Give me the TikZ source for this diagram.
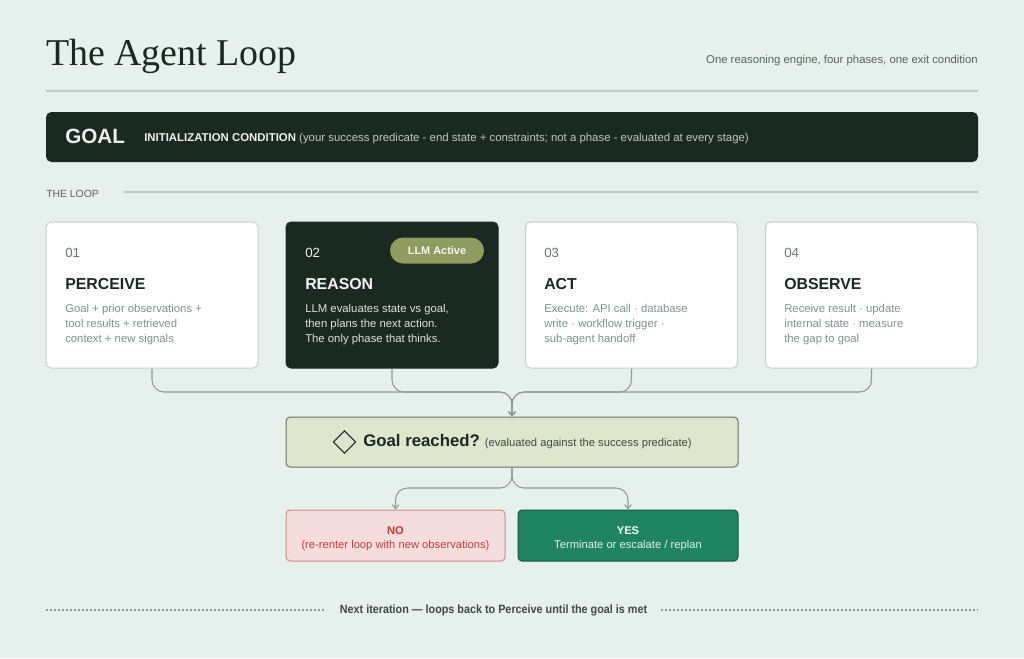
\documentclass[tikz,border=0pt]{standalone}
\usepackage{fontspec}
\setmainfont{Liberation Sans}
\newfontfamily\titlefont{Liberation Serif}
\newfontfamily\condfont[FakeStretch=0.9]{Liberation Sans}
\usetikzlibrary{shapes.geometric,arrows.meta,calc}
\definecolor{bg}{HTML}{E6F0EC}
\definecolor{ink}{HTML}{1B2923}
\definecolor{rule}{HTML}{B9CBC2}
\definecolor{subgray}{HTML}{56655E}
\definecolor{bodygray}{HTML}{82928A}
\definecolor{numgray}{HTML}{6B7A73}
\definecolor{cardline}{HTML}{C3D2CA}
\definecolor{pill}{HTML}{8F9B5F}
\definecolor{qfill}{HTML}{E0E6CE}
\definecolor{qline}{HTML}{6A7268}
\definecolor{nofill}{HTML}{F6DDDD}
\definecolor{noline}{HTML}{D08A8A}
\definecolor{nored}{HTML}{C13B3B}
\definecolor{yesfill}{HTML}{1E8461}
\definecolor{yesline}{HTML}{17543F}
\definecolor{conn}{HTML}{8D9C95}
\definecolor{lightbody}{HTML}{DCE3DF}
\tikzset{
  card/.style={draw=cardline, line width=0.75pt, fill=white, rounded corners=3.75pt,
    minimum width=159pt, minimum height=109.5pt, inner sep=0pt},
  darkcard/.style={card, draw=ink, fill=ink},
  num/.style={anchor=base west, inner sep=0pt, font=\fontsize{10}{12}\selectfont, text=numgray},
  ctitle/.style={anchor=base west, inner sep=0pt, font=\fontsize{11.9}{15}\selectfont\bfseries, text=ink},
  cbody/.style={anchor=base west, inner sep=0pt, align=left, font=\fontsize{8.5}{11.25}\selectfont, text=bodygray},
  connline/.style={draw=conn, line width=0.8pt, rounded corners=9pt},
  arr/.style={-{Straight Barb[length=3pt,width=5pt]}},
  resbox/.style={rounded corners=3pt, line width=0.75pt, minimum height=38.25pt, inner sep=0pt, align=center},
  restext/.style={inner sep=0pt, align=center, font=\fontsize{8.4}{10.5}\selectfont},
}
\begin{document}
\begin{tikzpicture}[x=0.75pt,y=-0.75pt]
\fill[bg] (0,0) rectangle (1024,658);
\useasboundingbox (0,0) rectangle (1024,658);
% header
\node[anchor=base west, inner sep=0pt, font=\titlefont\fontsize{28.4}{32}\selectfont, text=ink] (title) at (46,65) {The Agent Loop};
\node[anchor=base east, inner sep=0pt, font=\fontsize{8.5}{10}\selectfont, text=subgray] (sub) at (978,63) {One reasoning engine, four phases, one exit condition};
\coordinate (r1) at (46,91); \coordinate (r2) at (978,91);
\draw[rule, line width=0.8pt] (r1) -- (r2);
% goal bar
\node[fill=ink, rounded corners=4pt, minimum width=699pt, minimum height=37.5pt, inner sep=0pt] (goal) at (512,137) {};
\node[anchor=base west, inner sep=0pt, font=\fontsize{15.5}{18}\selectfont\bfseries, text=white!92!ink] (goalt) at (65,143) {GOAL};
\node[anchor=base west, inner sep=0pt, font=\fontsize{8.55}{10}\selectfont, text=lightbody!85!ink] (goald) at (144,141) {\textbf{\color{white!92!ink}INITIALIZATION CONDITION} (your success predicate - end state + constraints; not a phase - evaluated at every stage)};
% the loop label
\node[anchor=base west, inner sep=0pt, font=\fontsize{7.8}{10}\selectfont, text=subgray] (loop) at (46,197) {THE LOOP};
\coordinate (l1) at (124,192);
\coordinate (l2) at (978,192);
\draw[rule, line width=0.8pt] (l1) -- (l2);
% cards
\node[card] (c1) at (152,295) {};
\node[darkcard] (c2) at (392,295) {};
\node[card] (c3) at (631.5,295) {};
\node[card] (c4) at (871.5,295) {};
% card 1
\node[num] (n1) at (65,257) {01};
\node[ctitle] (t1) at (65,289) {PERCEIVE};
\node[cbody] (b1) at (65,342) {Goal + prior observations +\\tool results + retrieved\\context + new signals};
% card 2
\node[num, text=white!92!ink] (n2) at (305,257) {02};
\node[fill=pill, rounded corners=9.75pt, minimum width=70.5pt, minimum height=19.5pt, inner sep=0pt, font=\fontsize{8.2}{10}\selectfont\bfseries, text=white!92!pill] (pill) at (437,250.5) {LLM Active};
\node[ctitle, text=white!95!ink] (t2) at (305,289) {REASON};
\node[cbody, text=lightbody] (b2) at (305,342) {LLM evaluates state vs goal,\\then plans the next action.\\The only phase that thinks.};
% card 3
\node[num] (n3) at (544,257) {03};
\node[ctitle] (t3) at (544,289) {ACT};
\node[cbody] (b3) at (544,342) {Execute: API call · database\\write · workflow trigger ·\\sub-agent handoff};
% card 4
\node[num] (n4) at (784,257) {04};
\node[ctitle] (t4) at (784,289) {OBSERVE};
\node[cbody] (b4) at (784,342) {Receive result · update\\internal state · measure\\the gap to goal};
% decision
\node[fill=qfill, draw=qline, line width=0.75pt, rounded corners=3pt, minimum width=339pt, minimum height=37.5pt, inner sep=0pt] (q) at (512,442) {};
\node[diamond, draw=ink, line width=0.75pt, minimum size=17pt, inner sep=0pt] (dia) at (344.5,442) {};
\node[anchor=west, inner sep=0pt, text=ink] (qt) at (363,442) {{\fontsize{12.6}{16}\selectfont\bfseries Goal reached?} {\fontsize{8.4}{10}\selectfont\color{ink!85}(evaluated against the success predicate)}};
% merge connectors
\coordinate (m) at (512,392);
\foreach \c in {c1,c2,c3,c4}{
  \draw[connline, arr] (\c.south) |- (m) -- (q.north);
}
% results
\node[resbox, fill=nofill, draw=noline, minimum width=164.25pt] (no) at (395.5,535.5) {};
\node[restext, text=nored] (not) at (395.5,538.5) {\textbf{NO}\\(re-renter loop with new observations)};
\node[resbox, fill=yesfill, draw=yesline, minimum width=165pt] (yes) at (628,535.5) {};
\node[restext, text=white!88!yesfill] (yest) at (628,538.5) {{\color{white!95!yesfill}\textbf{YES}}\\Terminate or escalate / replan};
\coordinate (bm) at (512,488);
\draw[connline, arr] (q.south) -- (q.south |- bm) -| (no.north);
\draw[connline, arr] (q.south) -- (q.south |- bm) -| (yes.north);
% bottom
\node[inner sep=0pt, font=\condfont\fontsize{9}{10}\selectfont\bfseries, text=ink!85] (nxt) at (493.5,610) {Next iteration — loops back to Perceive until the goal is met};
\coordinate (dl) at (46,610); \coordinate (dr) at (978,610);
\draw[conn, line width=0.8pt, dash pattern=on 1.5pt off 1.5pt] (dl) -- ($(nxt.west)+(-14,0)$);
\draw[conn, line width=0.8pt, dash pattern=on 1.5pt off 1.5pt] ($(nxt.east)+(14,0)$) -- (dr);
\end{tikzpicture}
\end{document}
